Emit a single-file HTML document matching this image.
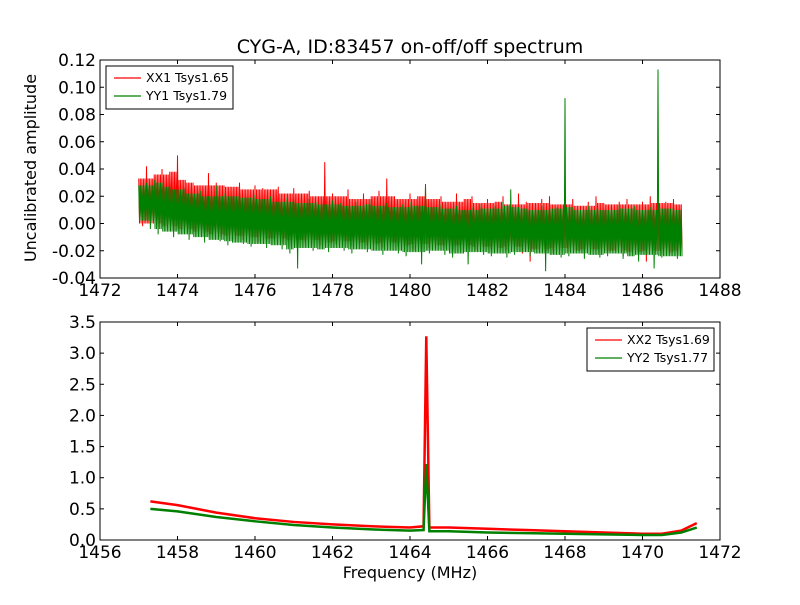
<!DOCTYPE html>
<html><head><meta charset="utf-8"><style>
body{margin:0;background:#fff;}
svg text{font-family:"DejaVu Sans","Liberation Sans",sans-serif;fill:#000;}
</style></head><body>
<svg id="chart" width="800" height="600">
<rect width="800" height="600" fill="#fff"/>
<text x="410" y="53" font-size="19" text-anchor="middle">CYG-A, ID:83457 on-off/off spectrum</text>
<text transform="translate(36,168) rotate(-90)" font-size="16" text-anchor="middle">Uncalibrated amplitude</text>
<text x="410" y="578" font-size="16" text-anchor="middle">Frequency (MHz)</text>
<g id="top"></g>
<g id="bot"></g>
</svg>
<script>
// top panel data (bin envelope, 1473..1487 step 0.2)
const topStart = 1473, topStep = 0.2;
const xx1Hi = [.033,.042,.036,.04,.038,.05,.032,.03,.028,.037,.03,.028,.027,.03,.025,.028,.026,.025,.027,.022,.026,.022,.024,.02,.045,.022,.02,.025,.018,.022,.02,.024,.033,.02,.018,.022,.02,.028,.018,.02,.016,.022,.018,.02,.015,.018,.016,.02,.014,.022,.016,.015,.018,.02,.014,.016,.018,.013,.016,.02,.015,.014,.016,.018,.014,.016,.02,.015,.016,.018,.014];
const xx1Lo = [-.002,.0,-.004,-.002,-.006,-.004,-.008,-.006,-.01,-.008,-.01,-.012,-.009,-.012,-.01,-.014,-.012,-.011,-.015,-.012,-.016,-.013,-.012,-.016,-.014,-.015,-.013,-.017,-.014,-.016,-.015,-.018,-.014,-.017,-.016,-.02,-.015,-.018,-.016,-.017,-.019,-.016,-.018,-.02,-.017,-.019,-.018,-.02,-.017,-.022,-.028,-.019,-.02,-.022,-.018,-.021,-.02,-.022,-.019,-.023,-.021,-.02,-.024,-.021,-.022,-.028,-.02,-.023,-.022,-.021,-.02];
const yy1Hi = [.028,.03,.032,.03,.027,.025,.026,.022,.024,.02,.028,.022,.02,.023,.019,.021,.018,.02,.016,.019,.017,.015,.018,.016,.014,.017,.015,.013,.016,.014,.018,.013,.015,.012,.014,.016,.013,.029,.012,.014,.011,.013,.01,.012,.014,.011,.013,.016,.025,.012,.011,.01,.013,.011,.012,.092,.012,.01,.013,.011,.01,.012,.014,.011,.013,.01,.012,.113,.011,.012,.01];
const yy1Lo = [.002,-.004,-.008,-.006,-.01,-.008,-.012,-.01,-.014,-.012,-.013,-.016,-.014,-.015,-.017,-.015,-.018,-.016,-.019,-.022,-.033,-.018,-.02,-.019,-.021,-.018,-.02,-.022,-.019,-.021,-.02,-.023,-.02,-.022,-.024,-.021,-.03,-.022,-.02,-.023,-.025,-.022,-.03,-.021,-.023,-.024,-.022,-.025,-.023,-.021,-.024,-.022,-.035,-.023,-.025,-.024,-.022,-.026,-.023,-.025,-.024,-.022,-.026,-.024,-.028,-.023,-.033,-.025,-.024,-.026,-.024];
const topXTicks = [1472,1474,1476,1478,1480,1482,1484,1486,1488];
const topYTicks = [-0.04,-0.02,0.00,0.02,0.04,0.06,0.08,0.10,0.12];
// bottom panel data
const botX   = [1457.3,1458,1459,1460,1461,1462,1463,1464,1464.35,1464.42,1464.5,1465,1466,1467,1468,1469,1470,1470.5,1471,1471.4];
const xx2    = [0.62,0.56,0.44,0.35,0.29,0.25,0.22,0.20,0.22,3.27,0.2,0.2,0.18,0.16,0.14,0.12,0.10,0.10,0.15,0.27];
const yy2    = [0.50,0.46,0.37,0.30,0.24,0.20,0.17,0.15,0.16,1.22,0.14,0.14,0.12,0.11,0.10,0.09,0.08,0.08,0.12,0.20];
const botXTicks = [1456,1458,1460,1462,1464,1466,1468,1470,1472];
const botYTicks = [0.0,0.5,1.0,1.5,2.0,2.5,3.0,3.5];

const NS="http://www.w3.org/2000/svg";
function mk(p,t,a){const e=document.createElementNS(NS,t);for(const k in a)e.setAttribute(k,a[k]);p.appendChild(e);return e;}
function panel(g,L,T,R,B,x0,x1,y0,y1,xt,yt,xdec,ydec){
  const sx=v=>L+(v-x0)/(x1-x0)*(R-L), sy=v=>B-(v-y0)/(y1-y0)*(B-T);
  xt.forEach(v=>{const x=sx(v);
    const t1=mk(g,'line',{x1:x,x2:x,y1:B,y2:B-4,stroke:'#000'});
    
    
    mk(g,'line',{x1:x,x2:x,y1:T,y2:T+4,stroke:'#000'});
    const tx=mk(g,'text',{x:x,y:B+18,'font-size':17,'text-anchor':'middle'});tx.textContent=v.toFixed(xdec);
    
    
  });
  yt.forEach(v=>{const y=sy(v);
    const t1=mk(g,'line',{x1:L,x2:L+4,y1:y,y2:y,stroke:'#000'});
    
    
    mk(g,'line',{x1:R,x2:R-4,y1:y,y2:y,stroke:'#000'});
    const tx=mk(g,'text',{x:L-4,y:y+6,'font-size':17,'text-anchor':'end'});tx.textContent=v.toFixed(ydec);
    
    
  });
  return {sx,sy};
}
function frame(g,L,T,R,B){const r=mk(g,'rect',{x:L,y:T,width:R-L,height:B-T,fill:'none',stroke:'#000'});
  
  }
function legend(g,x,y,w,items){
  const b=mk(g,'rect',{x:x,y:y,width:w,height:43,fill:'#fff',stroke:'#000'});
  
  
  items.forEach((it,i)=>{const yy=y+12+i*18;
    const l=mk(g,'line',{x1:x+8,x2:x+35,y1:yy,y2:yy,stroke:it[1],'stroke-width':1.2});
    
    
    const t=mk(g,'text',{x:x+40,y:yy+4,'font-size':12.5});t.textContent=it[0];
    
    
  });
}
// top
const gt=document.getElementById('top');
const A=panel(gt,100,60,720,278,1472,1488,-0.04,0.12,topXTicks,topYTicks,0,2);
function band(hi,lo,color,name){
  let pts=[];
  const n=hi.length, sub=5;
  for(let i=0;i<n;i++){const x=topStart+i*topStep;
    const h2=Math.min(hi[i],hi[Math.max(0,i-1)],hi[Math.min(n-1,i+1)]);
    const l2=Math.max(lo[i],lo[Math.max(0,i-1)],lo[Math.min(n-1,i+1)]);
    const s=(i==n-1)?1:sub;
    for(let k=0;k<s;k++){
      const xa=x+topStep*k/sub, xb=x+topStep*(k+0.5)/sub;
      pts.push(A.sx(xa)+','+A.sy(k==0?hi[i]:h2));
      pts.push(A.sx(xb)+','+A.sy(k==2?lo[i]:l2));
    }}
  const p=mk(gt,'polyline',{points:pts.join(' '),fill:'none',stroke:color,'stroke-width':1});
  
  
}
band(xx1Hi,xx1Lo,'#ff0000','series-xx1');
band(yy1Hi,yy1Lo,'#008000','series-yy1');
frame(gt,100,60,720,278);
legend(gt,106,66,127,[['XX1 Tsys1.65','#ff0000'],['YY1 Tsys1.79','#008000']]);
// bottom
const gb=document.getElementById('bot');
const Bp=panel(gb,100,322,720,540,1456,1472,0,3.5,botXTicks,botYTicks,0,1);
function curve(ys,color,name){
  const p=mk(gb,'polyline',{points:botX.map((x,i)=>Bp.sx(x)+','+Bp.sy(ys[i])).join(' '),fill:'none',stroke:color,'stroke-width':2.5});
  
  
}
curve(xx2,'#ff0000','series-xx2');
curve(yy2,'#008000','series-yy2');
frame(gb,100,322,720,540);
legend(gb,587,328,127,[['XX2 Tsys1.69','#ff0000'],['YY2 Tsys1.77','#008000']]);
</script>
</body></html>
